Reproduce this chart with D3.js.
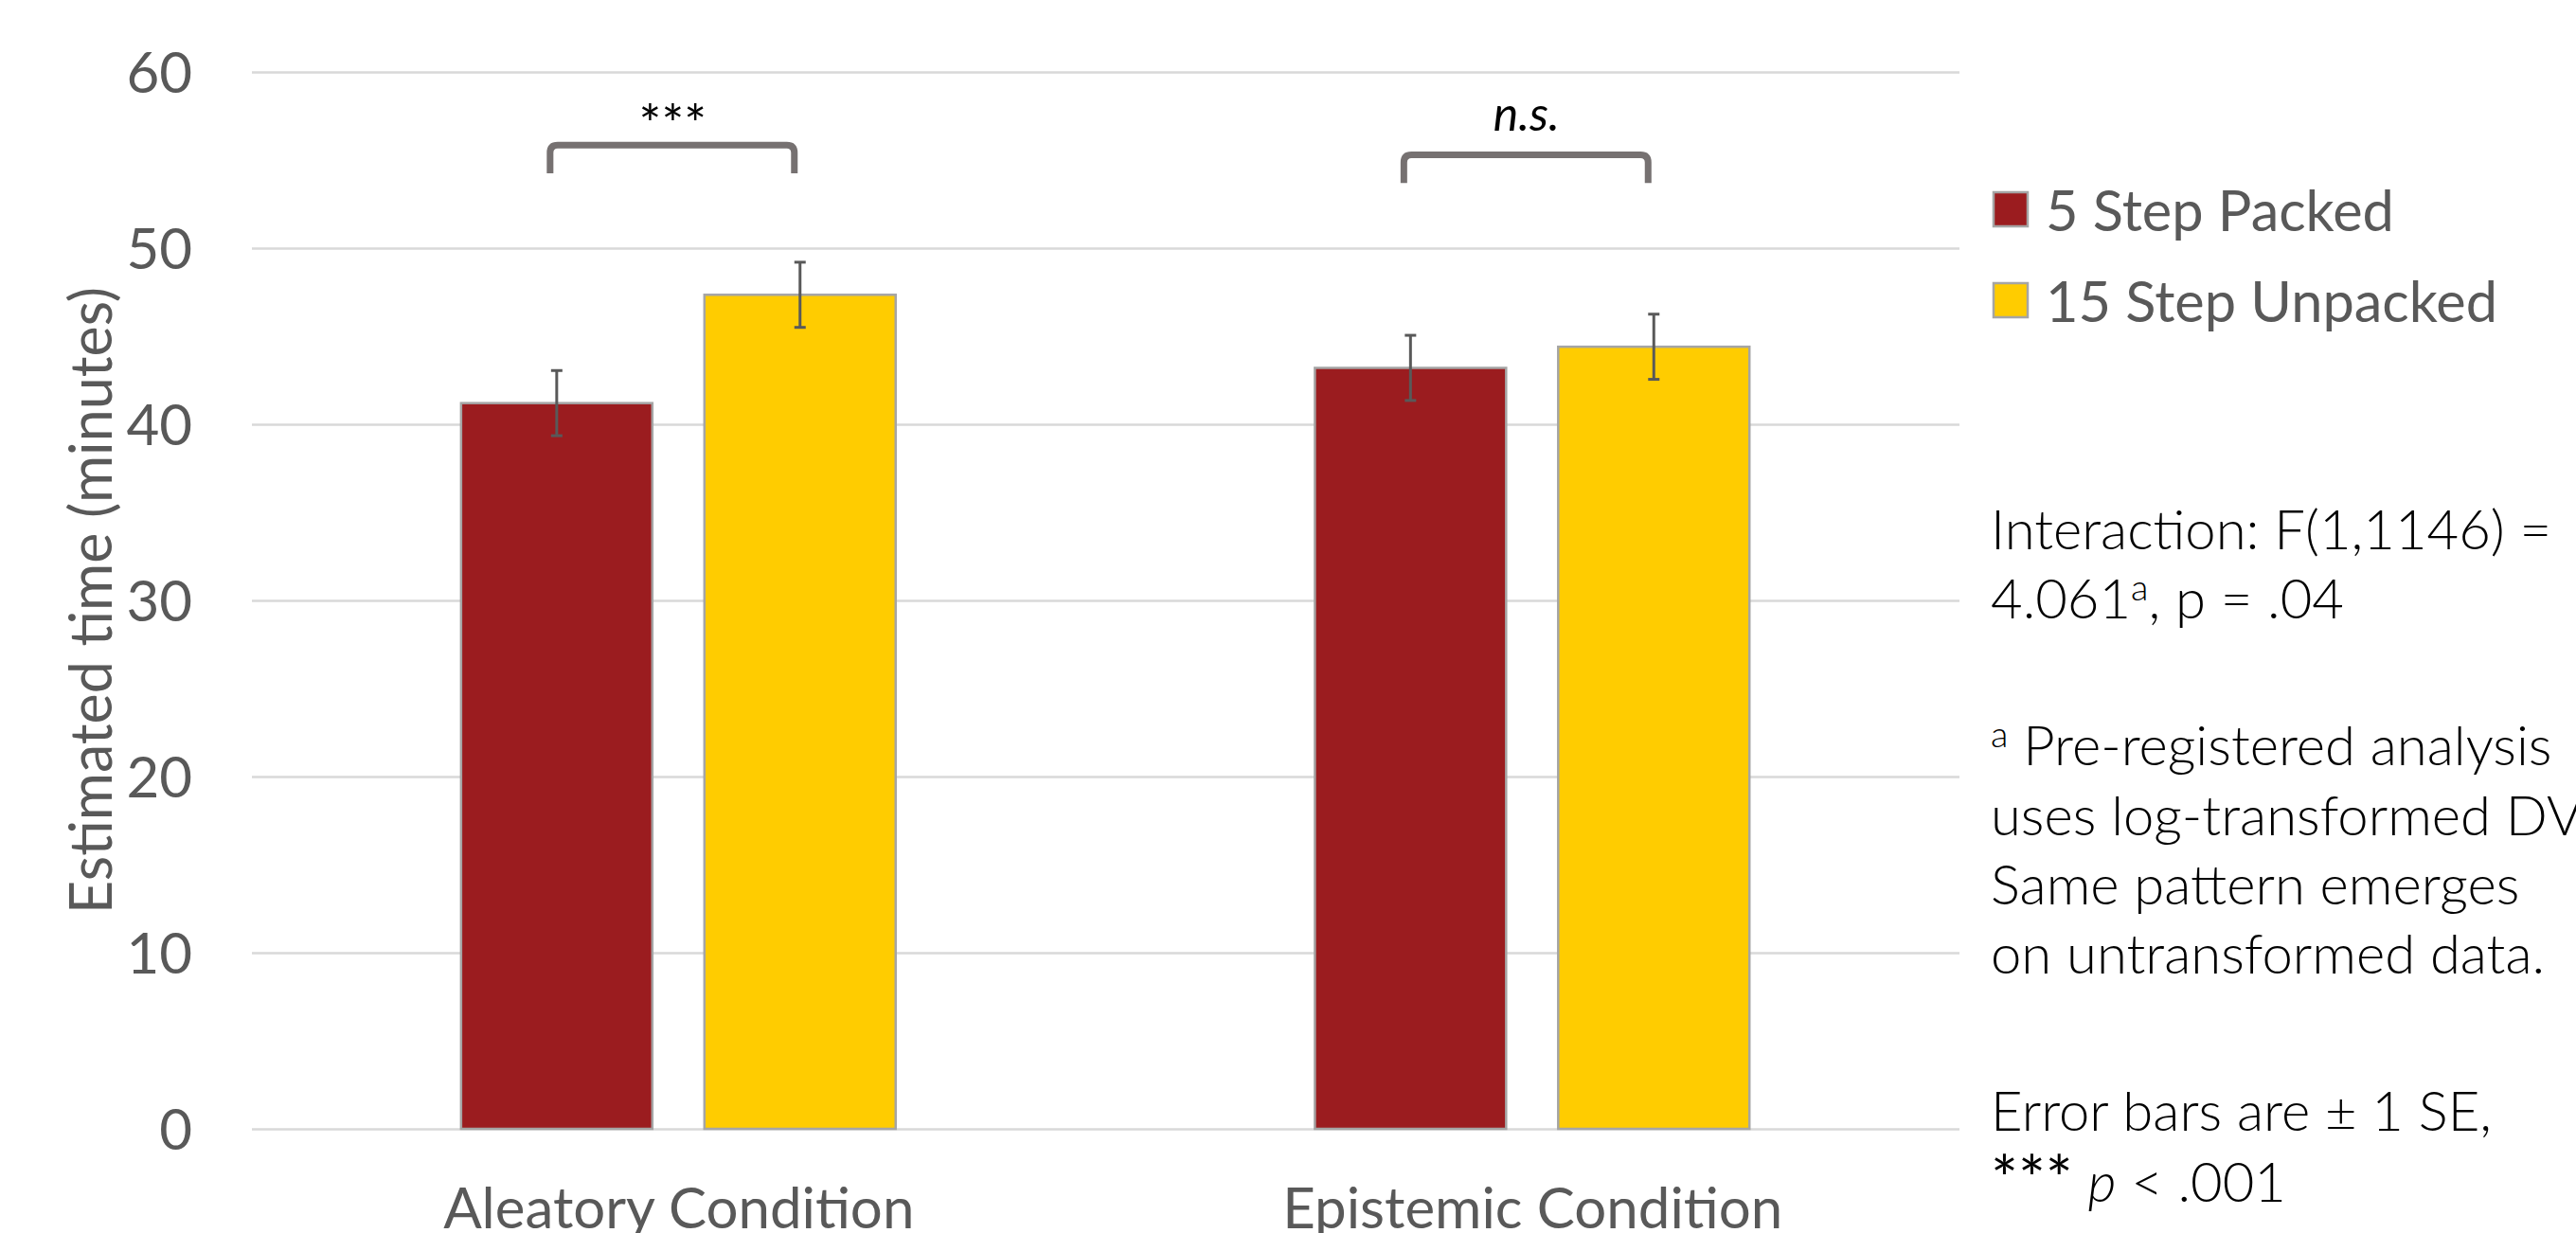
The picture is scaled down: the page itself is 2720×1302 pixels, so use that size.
<!DOCTYPE html>
<html>
<head>
<meta charset="utf-8">
<script src="https://cdn.jsdelivr.net/npm/d3@7"></script>
<style>
  html, body { margin: 0; padding: 0; background: #fff; }
  svg { display: block; font-family: "Lato", "Open Sans", sans-serif; }
</style>
</head>
<body>
<svg id="chart" width="2720" height="1302"></svg>
<script>
// chart data
const categories = ["Aleatory Condition", "Epistemic Condition"];
const seriesNames = ["5 Step Packed", "15 Step Unpacked"];
const means = [
  [41.2, 47.35],
  [43.2, 44.4]
];
const stdErrors = [
  [1.85, 1.85],
  [1.85, 1.85]
];
const yTicks = [0, 10, 20, 30, 40, 50, 60];
const brackets = [
  { category: "Aleatory Condition", top: 55.85, bottom: 54.25, label: "***", italic: false },
  { category: "Epistemic Condition", top: 55.3, bottom: 53.7, label: "n.s.", italic: true }
];
const yTitle = "Estimated time (minutes)";
const colors = ["#9B1C1F", "#FFCC00"];

const svg = d3.select("#chart");
const MARGIN = { left: 266, right: 651, top: 76, bottom: 110 };
const WIDTH = 2720 - MARGIN.left - MARGIN.right;
const HEIGHT = 1302 - MARGIN.top - MARGIN.bottom;

const y = d3.scaleLinear().domain([0, 60]).range([HEIGHT, 0]);
const x0 = d3.scaleBand().domain(categories).range([0, WIDTH]).padding(0);
const x1 = d3.scaleBand()
  .domain(seriesNames)
  .range([x0.bandwidth() * 0.245, x0.bandwidth() * 0.754])
  .paddingInner(0.214);

const g = svg.append("g").attr("transform", `translate(${MARGIN.left},${MARGIN.top})`);

// gridlines + tick labels
g.append("g")
  .call(d3.axisLeft(y).tickValues(yTicks).tickSize(-WIDTH).tickPadding(63))
  .call((g) => g.select(".domain").remove())
  .call((g) => g.selectAll(".tick line").attr("stroke", "#D9D9D9").attr("stroke-width", 2.5))
  .call((g) =>
    g.selectAll(".tick text")
      .attr("fill", "#595959")
      .style("font-family", "Lato, sans-serif")
      .style("font-size", "60px")
      .attr("dy", "0.36em")
  );

// y axis title
svg.append("text")
  .attr("transform", `translate(118,${MARGIN.top + HEIGHT / 2}) rotate(-90)`)
  .attr("text-anchor", "middle")
  .attr("fill", "#595959")
  .style("font-size", "61px")
  .text(yTitle);

// bars
const groups = g.append("g")
  .selectAll("g")
  .data(categories)
  .join("g")
  .attr("transform", (d) => `translate(${x0(d)},0)`);

groups.selectAll("rect")
  .data((d, i) => seriesNames.map((s, j) => ({ s, j, v: means[i][j] })))
  .join("rect")
  .attr("x", (d) => x1(d.s))
  .attr("y", (d) => y(d.v))
  .attr("width", x1.bandwidth())
  .attr("height", (d) => HEIGHT - y(d.v))
  .attr("fill", (d) => colors[d.j])
  .attr("stroke", "#A5A5A5")
  .attr("stroke-width", 2.5);

// error bars
const err = groups.selectAll("g.err")
  .data((d, i) => seriesNames.map((s, j) => ({ s, v: means[i][j], se: stdErrors[i][j] })))
  .join("g")
  .attr("class", "err")
  .attr("stroke", "#595959")
  .attr("stroke-width", 3);
err.append("line")
  .attr("x1", (d) => x1(d.s) + x1.bandwidth() / 2)
  .attr("x2", (d) => x1(d.s) + x1.bandwidth() / 2)
  .attr("y1", (d) => y(d.v + d.se))
  .attr("y2", (d) => y(d.v - d.se));
err.selectAll("line.cap")
  .data((d) => [d.v + d.se, d.v - d.se].map((v) => ({ s: d.s, v })))
  .join("line")
  .attr("class", "cap")
  .attr("x1", (d) => x1(d.s) + x1.bandwidth() / 2 - 6)
  .attr("x2", (d) => x1(d.s) + x1.bandwidth() / 2 + 6)
  .attr("y1", (d) => y(d.v))
  .attr("y2", (d) => y(d.v));

// significance brackets
const br = g.append("g").selectAll("g").data(brackets).join("g");
br.append("path")
  .attr("fill", "none")
  .attr("stroke", "#767171")
  .attr("stroke-width", 7)
  .attr("d", (d) => {
    const xa = x0(d.category) + x1(seriesNames[0]) + x1.bandwidth() / 2 - 7;
    const xb = x0(d.category) + x1(seriesNames[1]) + x1.bandwidth() / 2 - 6;
    const yt = y(d.top), yb = y(d.bottom), r = 8;
    return `M${xa},${yb} L${xa},${yt + r} Q${xa},${yt} ${xa + r},${yt} L${xb - r},${yt} Q${xb},${yt} ${xb},${yt + r} L${xb},${yb}`;
  });
br.append("text")
  .attr("x", (d) => x0(d.category) + x1(seriesNames[0]) + (x1.step() + x1.bandwidth()) / 2 - 6)
  .attr("y", (d) => y(d.top) - (d.italic ? 25 : 2))
  .attr("text-anchor", "middle")
  .attr("fill", "#000")
  .style("font-size", (d) => (d.italic ? "50px" : "56px"))
  .style("font-style", (d) => (d.italic ? "italic" : "normal"))
  .text((d) => d.label);

// category labels
g.append("g")
  .selectAll("text")
  .data(categories)
  .join("text")
  .attr("x", (d) => x0(d) + x0.bandwidth() / 2)
  .attr("y", HEIGHT + 105)
  .attr("text-anchor", "middle")
  .attr("fill", "#595959")
  .style("font-size", "60px")
  .text((d) => d);

// legend
const legend = svg.append("g").attr("transform", "translate(2105,203)");
const li = legend.selectAll("g").data(seriesNames).join("g")
  .attr("transform", (d, i) => `translate(0,${i * 96})`);
li.append("rect")
  .attr("width", 36).attr("height", 36)
  .attr("fill", (d, i) => colors[i])
  .attr("stroke", "#A5A5A5").attr("stroke-width", 2.5);
li.append("text")
  .attr("x", 55).attr("y", 41)
  .attr("fill", "#595959")
  .style("font-size", "59.5px")
  .text((d) => d);

// notes
const notes = svg.append("text")
  .attr("fill", "#000")
  .style("font-size", "58px")
  .style("font-weight", 300);
const noteLines = [
  { y: 580, parts: [["Interaction: F(1,1146) ="]] },
  { y: 653, parts: [["4.061"], ["a", "sup"], [", p = .04"]] },
  { y: 808, parts: [["a", "sup"], [" Pre-registered analysis"]] },
  { y: 882, parts: [["uses log-transformed DV"]] },
  { y: 955, parts: [["Same pattern emerges"]] },
  { y: 1028, parts: [["on untransformed data."]] },
  { y: 1194, parts: [["Error bars are \u00b1 1 SE,"]] },
  { y: 1269, parts: [["***", "star"], [" "], ["p", "it"], [" < .001"]] }
];
noteLines.forEach((ln) => {
  const t = notes.append("tspan").attr("x", 2102).attr("y", ln.y);
  ln.parts.forEach(([s, kind], k) => {
    const sp = k === 0 ? t : notes.append("tspan");
    sp.text(s);
    if (kind === "sup") sp.attr("font-size", "38px").attr("baseline-shift", "19px");
    if (kind === "star") sp.attr("font-size", "68px").style("font-weight", 400);
    if (kind === "it") sp.style("font-style", "italic");
  });
});
</script>
</body>
</html>
